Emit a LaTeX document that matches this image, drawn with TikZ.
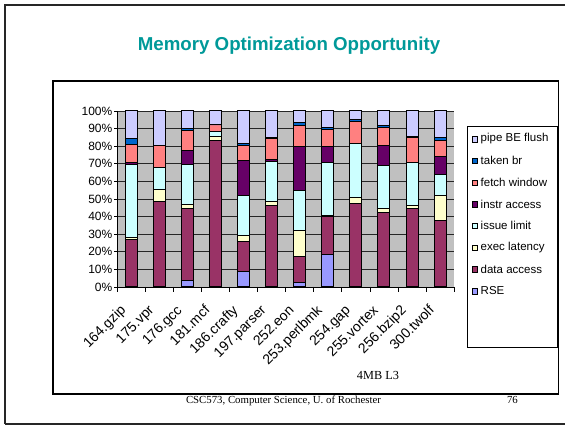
\documentclass[tikz,border=0pt]{standalone}
\usepackage{fontspec}
\setmainfont{Liberation Serif}
\newfontfamily\arialfont{Liberation Sans}

% series colours (bottom to top of each stack)
\definecolor{cRSE}{HTML}{9999FF}
\definecolor{cData}{HTML}{993366}
\definecolor{cExec}{HTML}{FFFFCC}
\definecolor{cIssue}{HTML}{CCFFFF}
\definecolor{cInstr}{HTML}{660066}
\definecolor{cFetch}{HTML}{FF8080}
\definecolor{cTaken}{HTML}{0066CC}
\definecolor{cPipe}{HTML}{CCCCFF}
\definecolor{titleteal}{RGB}{0,153,153}
\definecolor{plotgrey}{HTML}{C0C0C0}

\tikzset{
  seg/.style={draw=black, line width=1pt},
  grid line/.style={draw=black!85, line width=0.8pt},
  axis label/.style={font=\arialfont\fontsize{12}{12}\selectfont, inner sep=0pt},
  cat label/.style={font=\arialfont\fontsize{14}{14}\selectfont, inner sep=0pt, rotate=45, anchor=base east},
  legend text/.style={font=\arialfont\fontsize{11.5}{11.5}\selectfont, inner sep=0pt, anchor=west},
  swatch/.style={draw=black, line width=0.6pt},
}

\begin{document}
\begin{tikzpicture}[x=1pt,y=-1pt]
\useasboundingbox (0,0) rectangle (565,427);

% slide frame
\draw[line width=1.2pt, draw=black!85] (5,424) -- (5,5) -- (580,5);
\draw[line width=1.2pt, draw=black!85] (5,424) -- (580,424);

% title
\node[font=\arialfont\bfseries\fontsize{18.7}{18.7}\selectfont, text=titleteal, anchor=base, inner sep=0pt]
  (title) at (289,50.5) {Memory Optimization Opportunity};

% footer
\node[font=\fontsize{10.8}{10.8}\selectfont, anchor=base, inner sep=0pt] (footer) at (283.5,403) {CSC573, Computer Science, U. of Rochester};
\node[font=\fontsize{10.8}{10.8}\selectfont, anchor=base east, inner sep=0pt] (pageno) at (518,403) {76};

% chart frame
\filldraw[fill=white, draw=black, line width=1.1pt] (53,81) rectangle (558.5,394);

% plot area
\fill[plotgrey] (117.5,111) rectangle (454.1,287);
\foreach \p in {10,20,...,100}
  \draw[grid line] (117.5,{287-1.76*\p}) -- (454.1,{287-1.76*\p});

% stacked bars: index / cumulative tops of RSE, data, exec, issue, instr, fetch, taken
\foreach \i/\a/\b/\c/\d/\e/\f/\g in {
   1/0/27.2/28.3/69.8/70.8/81.2/84.2,
   2/0/48.7/55.3/67.8/68.0/80.5/80.5,
   3/3.8/44.5/46.8/69.7/77.3/89.0/90.0,
   4/0/83.3/85.3/88.2/88.4/92.2/92.2,
   5/8.9/26.1/29.0/52.1/71.6/80.5/81.3,
   6/0.5/46.4/48.7/71.4/72.5/84.3/85.0,
   7/2.8/17.4/32.2/54.9/80.1/91.9/93.7,
   8/18.4/40.3/40.8/70.6/80.1/89.4/90.9,
   9/0/47.7/50.6/81.4/81.6/94.1/95.0,
  10/0.5/42.6/44.5/68.8/80.5/90.9/91.5,
  11/0/44.5/46.4/70.6/70.8/84.7/85.5,
  12/0.5/37.5/52.1/64.0/73.9/83.3/84.8}
{
  \pgfmathsetmacro\cx{117.5+28.05*(\i-0.5)}
  \foreach \lo/\hi/\col in {0/\a/cRSE, \a/\b/cData, \b/\c/cExec, \c/\d/cIssue,
                            \d/\e/cInstr, \e/\f/cFetch, \f/\g/cTaken, \g/100/cPipe}
    \filldraw[seg, fill=\col] (\cx-6,{287-1.76*\lo}) rectangle (\cx+6,{287-1.76*\hi});
}

% axes and ticks
\draw[black, line width=0.9pt] (117.5,111) -- (117.5,287) -- (454.1,287);
\foreach \p in {0,10,...,100}
  \draw[black, line width=0.9pt] (114,{287-1.76*\p}) -- (117.5,{287-1.76*\p});
\foreach \k in {0,...,12}
  \draw[black, line width=0.9pt] ({117.5+28.05*\k},287) -- ({117.5+28.05*\k},292);

% y-axis labels
\foreach \p in {0,10,...,100}
  \node[axis label, anchor=east] (ylab\p) at (112.5,{287-1.76*\p}) {\p\%};

% category labels
\foreach \i/\t in {1/164.gzip, 2/175.vpr, 3/176.gcc, 4/181.mcf, 5/186.crafty,
                   6/197.parser, 7/252.eon, 8/253.perlbmk, 9/254.gap,
                   10/255.vortex, 11/256.bzip2, 12/300.twolf}
  \node[cat label] (cat\i) at ({117.5+28.05*(\i-0.5)-5},311) {\t};

% axis caption
\node[font=\fontsize{12.3}{12.3}\selectfont, inner sep=0pt] (xcap) at (378,375) {4MB L3};

% legend
\draw[black, line width=0.6pt] (467,126) rectangle (557,347);
\foreach \k/\col/\t in {0/cPipe/pipe BE flush, 1/cTaken/taken br, 2/cFetch/fetch window,
                        3/cInstr/instr access, 4/cIssue/issue limit, 5/cExec/exec latency,
                        6/cData/data access, 7/cRSE/RSE}
{
  \filldraw[swatch, fill=\col] (472,{139+21.7*\k-2.5}) rectangle (477.5,{139+21.7*\k+3});
  \node[legend text] (leg\k) at (480.5,{139+21.7*\k}) {\t};
}
\end{tikzpicture}
\end{document}
